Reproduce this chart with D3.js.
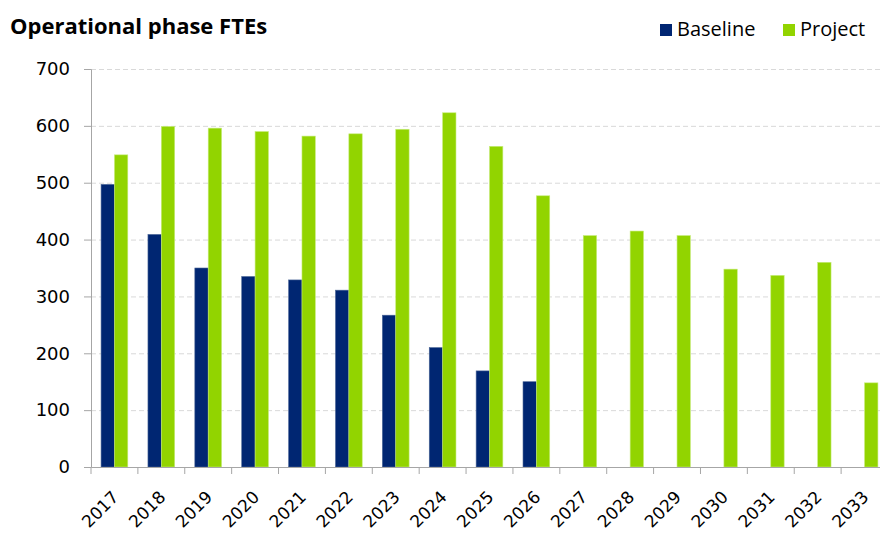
<!DOCTYPE html>
<html>
<head>
<meta charset="utf-8">
<script src="https://cdn.jsdelivr.net/npm/d3@7"></script>
<style>
  body { margin: 0; background: #fff; }
  svg { display: block; }
</style>
</head>
<body>
<svg width="880" height="533"></svg>
<script>
var years = ["2017", "2018", "2019", "2020", "2021", "2022", "2023", "2024", "2025",
             "2026", "2027", "2028", "2029", "2030", "2031", "2032", "2033"];
var baseline = [497, 409, 350, 335, 329, 311, 267, 210, 169, 150,
                null, null, null, null, null, null, null];
var project = [549, 599, 596, 590, 582, 586, 594, 623, 564, 477,
               407, 415, 407, 348, 337, 360, 148];
var yTicks = [0, 100, 200, 300, 400, 500, 600, 700];
var seriesNames = ["Baseline", "Project"];
var colors = ["#002672", "#92d400"];

var svg = d3.select("svg"),
    margin = {top: 69, right: -8, bottom: 66, left: 91},
    width = svg.attr("width") - margin.left - margin.right,
    height = svg.attr("height") - margin.top - margin.bottom;

var data = years.map(function(y, i) {
    return {year: y, values: [baseline[i], project[i]]};
});

var xScale = d3.scaleBand()
    .domain(years)
    .range([0, width]);

var xInner = d3.scaleBand()
    .domain([0, 1])
    .range([0, xScale.bandwidth() * 0.57])
    .padding(0);

var yScale = d3.scaleLinear()
    .domain([0, 700])
    .range([height, 0]);

var g = svg.append("g")
    .attr("transform", "translate(" + margin.left + "," + margin.top + ")");

// gridlines
g.append("g")
    .selectAll("line")
    .data(yTicks.filter(function(d) { return d > 0; }))
    .enter().append("line")
    .attr("x1", 0)
    .attr("x2", width)
    .attr("y1", function(d) { return yScale(d) + 0.5; })
    .attr("y2", function(d) { return yScale(d) + 0.5; })
    .attr("stroke", "#d9d9d9")
    .attr("stroke-dasharray", "5,3");

// bars
var offset = (xScale.bandwidth() - xInner.range()[1]) / 2;
var groups = g.selectAll(".grp")
    .data(data)
    .enter().append("g")
    .attr("class", "grp")
    .attr("transform", function(d) { return "translate(" + (xScale(d.year) + offset) + ",0)"; });

groups.selectAll("rect")
    .data(function(d) { return d.values.map(function(v, i) { return {i: i, v: v}; })
        .filter(function(e) { return e.v != null; }); })
    .enter().append("rect")
    .attr("x", function(d) { return xInner(d.i); })
    .attr("y", function(d) { return yScale(d.v); })
    .attr("width", xInner.bandwidth())
    .attr("height", function(d) { return height - yScale(d.v); })
    .attr("fill", function(d) { return colors[d.i]; })
    .attr("stroke", function(d) { return d.i === 0 ? "#4a6596" : "#c6ec7a"; })
    .attr("stroke-width", 0.6);

// y axis
var yAxis = g.append("g")
    .call(d3.axisLeft(yScale).tickValues(yTicks).tickSize(7).tickPadding(14));
yAxis.select(".domain").attr("stroke", "#a6a6a6");
yAxis.selectAll(".tick line").attr("stroke", "#a6a6a6");
yAxis.selectAll("text")
    .style("font-family", "'DejaVu Sans', Verdana, sans-serif")
    .style("font-size", "18px")
    .attr("fill", "#000");

// x axis
var xAxis = g.append("g")
    .attr("transform", "translate(0," + height + ")")
    .call(d3.axisBottom(xScale).tickSize(0).tickPadding(0));
xAxis.select(".domain").attr("stroke", "#a6a6a6");
xAxis.selectAll(".tick").each(function(d) {
    d3.select(this).append("line")
        .attr("x1", -xScale.bandwidth() / 2)
        .attr("x2", -xScale.bandwidth() / 2)
        .attr("y1", 0)
        .attr("y2", 7)
        .attr("stroke", "#a6a6a6");
});
xAxis.selectAll("text")
    .style("font-family", "'DejaVu Sans', Verdana, sans-serif")
    .style("font-size", "17px")
    .attr("fill", "#000")
    .attr("text-anchor", "end")
    .attr("dy", "0.35em")
    .attr("transform", "translate(1,27) rotate(-45)");

// title
svg.append("text")
    .attr("x", 10)
    .attr("y", 34)
    .style("font-family", "'Open Sans', sans-serif")
    .style("font-weight", "bold")
    .style("font-size", "22px")
    .text("Operational phase FTEs");

// legend
var legendX = [660, 783];
var legend = svg.selectAll(".legend")
    .data(seriesNames)
    .enter().append("g")
    .attr("class", "legend")
    .attr("transform", function(d, i) { return "translate(" + legendX[i] + ",0)"; });

legend.append("rect")
    .attr("x", 0)
    .attr("y", 24)
    .attr("width", 12)
    .attr("height", 12)
    .attr("fill", function(d, i) { return colors[i]; });

legend.append("text")
    .attr("x", 17)
    .attr("y", 36)
    .style("font-family", "'Open Sans', sans-serif")
    .style("font-size", "20px")
    .text(function(d) { return d; });
</script>
</body>
</html>
